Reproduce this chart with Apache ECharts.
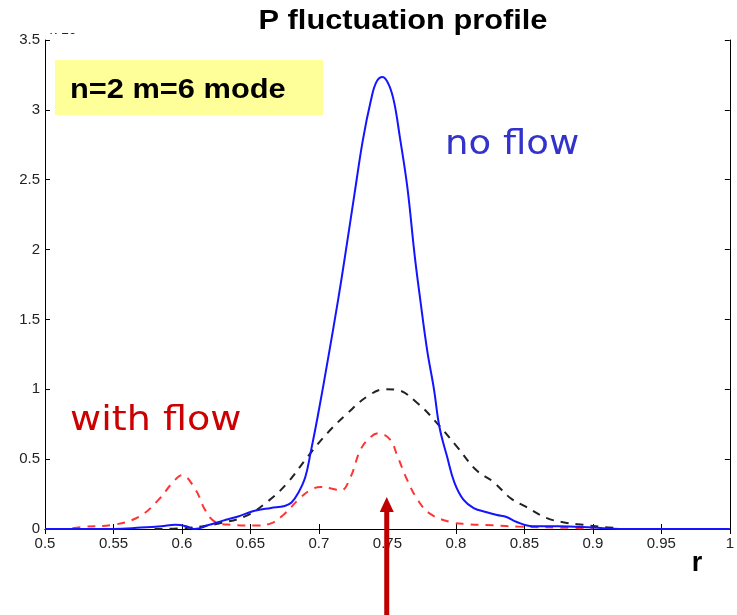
<!DOCTYPE html>
<html>
<head>
<meta charset="utf-8">
<script src="https://cdn.jsdelivr.net/npm/echarts@6/dist/echarts.min.js"></script>
<style>
  html, body { margin: 0; padding: 0; background: #fff; }
  #chart { width: 737px; height: 615px; }
</style>
</head>
<body>
<div id="chart"></div>
<script>
// Radial profile of the n=2 m=6 pressure fluctuation (units of 1e-4)

// no flow (solid blue)
const noFlowR = [0.5, 0.55, 0.57, 0.585, 0.595, 0.603, 0.609, 0.62, 0.63, 0.641, 0.653, 0.665, 0.675, 0.68, 0.685, 0.69, 0.694, 0.699, 0.7065, 0.714, 0.719, 0.726, 0.732, 0.738, 0.742, 0.7465, 0.751, 0.755, 0.759, 0.7645, 0.770, 0.774, 0.779, 0.784, 0.788, 0.7935, 0.799, 0.8055, 0.813, 0.8225, 0.83, 0.837, 0.844, 0.856, 0.875, 0.9, 0.92, 1.0];
const noFlowV = [0, 0, 0.01, 0.02, 0.03, 0.02, 0.0, 0.03, 0.06, 0.09, 0.13, 0.15, 0.165, 0.19, 0.26, 0.37, 0.55, 0.8, 1.21, 1.64, 1.95, 2.40, 2.78, 3.07, 3.2, 3.235, 3.18, 3.05, 2.81, 2.45, 1.95, 1.64, 1.28, 1.0, 0.73, 0.52, 0.33, 0.21, 0.15, 0.12, 0.10, 0.086, 0.052, 0.02, 0.02, 0.01, 0, 0];

// reference envelope (black dashed)
const envR = [0.58, 0.6, 0.615, 0.627, 0.646, 0.663, 0.677, 0.692, 0.7065, 0.721, 0.7355, 0.748, 0.757, 0.772, 0.786, 0.8007, 0.815, 0.827, 0.84, 0.851, 0.866, 0.88, 0.893, 0.907, 0.92];
const envV = [0.0, 0.005, 0.02, 0.04, 0.09, 0.2, 0.33, 0.52, 0.69, 0.83, 0.95, 1.0, 0.995, 0.90, 0.76, 0.59, 0.42, 0.34, 0.22, 0.16, 0.08, 0.045, 0.03, 0.015, 0.005];

// with flow (red dashed)
const withFlowR = [0.52, 0.5275, 0.55, 0.569, 0.583, 0.593, 0.6, 0.61, 0.617, 0.6245, 0.636, 0.653, 0.665, 0.675, 0.685, 0.694, 0.7015, 0.709, 0.716, 0.723, 0.7305, 0.738, 0.7435, 0.752, 0.757, 0.7645, 0.772, 0.781, 0.796, 0.808, 0.827, 0.846, 0.875, 0.9];
const withFlowV = [0.005, 0.015, 0.03, 0.09, 0.21, 0.33, 0.385, 0.28, 0.135, 0.05, 0.03, 0.025, 0.04, 0.11, 0.21, 0.28, 0.30, 0.29, 0.275, 0.37, 0.57, 0.66, 0.685, 0.64, 0.53, 0.35, 0.21, 0.11, 0.05, 0.035, 0.026, 0.017, 0.01, 0.003];

const xTicks = ['0.5', '0.55', '0.6', '0.65', '0.7', '0.75', '0.8', '0.85', '0.9', '0.95', '1'];
const yTicks = ['0', '0.5', '1', '1.5', '2', '2.5', '3', '3.5'];
const markerR = 0.7495;

const pairs = (xs, ys) => xs.map((x, i) => [x, ys[i]]);

const chart = echarts.init(document.getElementById('chart'));

const axisFont = { fontFamily: 'Liberation Sans, Arial', fontSize: 15, color: '#222' };

const option = {
  animation: false,
  backgroundColor: '#fff',
  grid: { left: 45, right: -3, top: 40, bottom: 86, containLabel: false },
  xAxis: [{
    type: 'value', min: 0.5, max: 1, interval: 0.05,
    axisLine: { lineStyle: { color: '#000', width: 1 } },
    axisTick: { inside: true, length: 5, lineStyle: { color: '#000' } },
    axisLabel: Object.assign({ margin: 7, formatter: (v) => xTicks[Math.round((v - 0.5) / 0.05)] }, axisFont),
    splitLine: { show: false }
  }, {
    type: 'value', min: 0.5, max: 1, interval: 0.05, position: 'top',
    axisLine: { lineStyle: { color: '#000', width: 1 } },
    axisTick: { inside: true, length: 5, lineStyle: { color: '#000' } },
    axisLabel: { show: false }, splitLine: { show: false }
  }],
  yAxis: [{
    type: 'value', min: 0, max: 3.5, interval: 0.5,
    axisLine: { show: true, lineStyle: { color: '#000', width: 1 } },
    axisTick: { show: true, inside: true, length: 5, lineStyle: { color: '#000' } },
    axisLabel: Object.assign({ margin: 5, formatter: (v) => yTicks[Math.round(v / 0.5)] }, axisFont),
    splitLine: { show: false }
  }, {
    type: 'value', min: 0, max: 3.5, interval: 0.5, position: 'right',
    axisLine: { show: true, lineStyle: { color: '#000', width: 1 } },
    axisTick: { show: true, inside: true, length: 5, lineStyle: { color: '#000' } },
    axisLabel: { show: false }, splitLine: { show: false }
  }],
  series: [{
    name: 'envelope', type: 'line', data: pairs(envR, envV),
    smooth: 0.4, showSymbol: false,
    lineStyle: { color: '#222', width: 2, type: [8, 7] }
  }, {
    name: 'with flow', type: 'line', data: pairs(withFlowR, withFlowV),
    smooth: 0.4, showSymbol: false,
    lineStyle: { color: '#ff3535', width: 2, type: [8, 7] }
  }, {
    name: 'no flow', type: 'line', data: pairs(noFlowR, noFlowV),
    smooth: 0.4, showSymbol: false,
    lineStyle: { color: '#1414ff', width: 2 }
  }]
};
chart.setOption(option);

// annotations: title, labels, mode box, exponent, arrow at the resonant surface
const ax = chart.convertToPixel({ xAxisIndex: 0 }, markerR);
const baseY = chart.convertToPixel({ yAxisIndex: 0 }, 0);

chart.setOption({
  graphic: [
    { type: 'text', x: 403, y: 22, scaleX: 1.14, z: 11,
      style: { text: 'P fluctuation profile', font: 'bold 27px Liberation Sans, Arial', fill: '#000', align: 'center', verticalAlign: 'middle' } },
    { type: 'text', x: 50, y: 23, z: 5,
      style: { text: 'x 10', font: '14px Liberation Sans, Arial', fill: '#222' } },
    { type: 'rect', shape: { x: 40, y: 0, width: 100, height: 33 }, z: 6,
      style: { fill: '#fff' } },
    { type: 'rect', shape: { x: 55, y: 60, width: 268, height: 55 }, z: 10,
      style: { fill: '#ffff99' } },
    { type: 'text', x: 70, y: 90, scaleX: 1.1, z: 11,
      style: { text: 'n=2 m=6 mode', font: 'bold 28px Liberation Sans, Arial', fill: '#000', verticalAlign: 'middle' } },
    { type: 'text', x: 445, y: 145, scaleX: 1.09, z: 11,
      style: { text: 'no flow', font: '34px DejaVu Sans', fill: '#3333cc', verticalAlign: 'middle' } },
    { type: 'text', x: 70, y: 421, scaleX: 1.12, z: 11,
      style: { text: 'with flow', font: '34px DejaVu Sans', fill: '#cc0000', verticalAlign: 'middle' } },
    { type: 'text', x: 697, y: 564, z: 11,
      style: { text: 'r', font: 'bold 27px Liberation Sans, Arial', fill: '#000', align: 'center', verticalAlign: 'middle' } },
    { type: 'rect', shape: { x: ax - 2.5, y: baseY - 18, width: 5, height: 615 - baseY + 18 }, z: 12,
      style: { fill: '#c00000' } },
    { type: 'polygon', shape: { points: [[ax, baseY - 32], [ax - 7, baseY - 17], [ax + 7, baseY - 17]] }, z: 12,
      style: { fill: '#c00000' } }
  ]
});
</script>
</body>
</html>
